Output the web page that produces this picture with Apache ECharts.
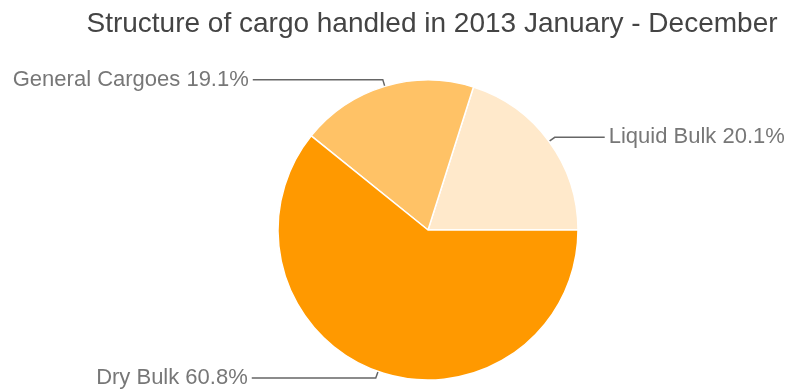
<!DOCTYPE html>
<html><head><meta charset="utf-8">
<script src="https://cdn.jsdelivr.net/npm/echarts@6/dist/echarts.min.js"></script>
<style>html,body{margin:0;padding:0;background:#fff}#c{width:794px;height:392px}</style>
</head><body><div id="c"></div>
<script>
const categories = ['Liquid Bulk', 'General Cargoes', 'Dry Bulk'];
const values = [20.1, 19.1, 60.8];
const colors = ['#FFE9CB', '#FFC266', '#FF9900'];
const line2 = [50, 130, 124];
const chart = echarts.init(document.getElementById('c'));
chart.setOption({
  animation: false,
  title: {
    text: 'Structure of cargo handled in 2013 January - December',
    left: 427, top: 5, textAlign: 'center',
    textStyle: {fontFamily: 'Liberation Sans, Arial, sans-serif', fontSize: 28, fontWeight: 'normal', color: '#444'}
  },
  series: [{
    type: 'pie',
    center: [428, 230],
    radius: 150,
    startAngle: 0,
    clockwise: false,
    avoidLabelOverlap: false,
    itemStyle: {borderColor: '#fff', borderWidth: 1.5},
    label: {
      show: true,
      position: 'outside',
      formatter: p => p.name + ' ' + p.value.toFixed(1) + '%',
      fontFamily: 'Liberation Sans, Arial, sans-serif',
      fontSize: 22,
      color: '#777',
      distanceToLabelLine: 4
    },
    labelLine: {show: true, length: 7, lineStyle: {color: '#666', width: 1.5}},
    emphasis: {disabled: true},
    data: categories.map((n, i) => ({
      name: n, value: values[i],
      itemStyle: {color: colors[i]},
      labelLine: {length2: line2[i]}
    }))
  }]
});
</script></body></html>
